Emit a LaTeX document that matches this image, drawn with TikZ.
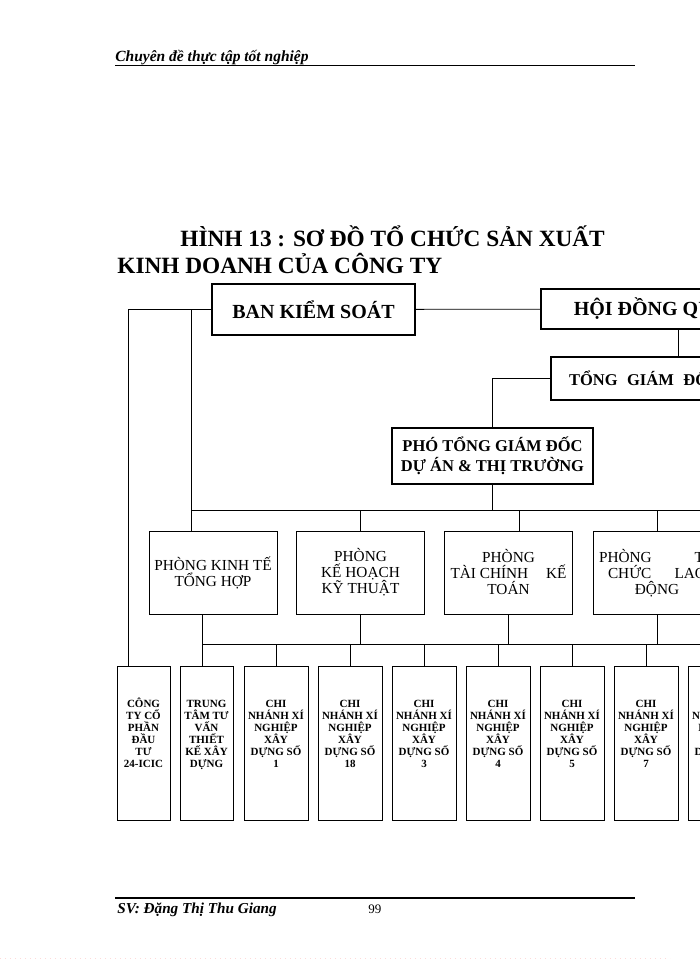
\documentclass[tikz,border=0pt]{standalone}
\usepackage{fontspec}
\setmainfont{Liberation Serif}

\begin{document}
\begin{tikzpicture}[x=1pt, y=-1pt, line width=0.8pt,
    topbox/.style={draw, line width=1.4pt, inner sep=0pt, font=\bfseries\fontsize{20}{23}\selectfont},
    roombox/.style={draw, line width=1pt, minimum width=128pt, minimum height=83pt, inner sep=0pt, align=center, font=\fontsize{15.3}{16}\selectfont},
    unitbox/.style={draw, line width=1pt, inner sep=0pt, anchor=north, minimum height=154pt, text height=101pt, text depth=53pt, align=center, font=\bfseries\fontsize{11}{12}\selectfont}]
  \useasboundingbox (0,0) rectangle (700,960);
  \clip (0,0) rectangle (700,960);

  % page head and foot
  \node[anchor=base west, inner sep=0pt, font=\bfseries\itshape\fontsize{15.5}{17}\selectfont] (head) at (115,62) {Chuyên đề thực tập tốt nghiệp};
  \draw[line width=1.2pt] (115,65.5) -- (635,65.5);
  \draw[line width=1.5pt] (115,898) -- (635,898);
  \node[anchor=base west, inner sep=0pt, font=\bfseries\itshape\fontsize{15.2}{17}\selectfont] (student) at (117,913) {SV: Đặng Thị Thu Giang};
  \node[anchor=base west, inner sep=0pt, font=\fontsize{13}{15}\selectfont] (page) at (368,913) {99};
  \draw[pink!60, line width=0.8pt, dash pattern=on 1pt off 4pt] (0,958) -- (670,958);

  \node[anchor=base west, inner sep=0pt, font=\bfseries\fontsize{23.3}{27}\selectfont] (title1) at (180,246) {HÌNH 13 : SƠ ĐỒ TỔ CHỨC SẢN XUẤT};
  \node[anchor=base west, inner sep=0pt, font=\bfseries\fontsize{23.3}{27}\selectfont] (title2) at (117,273.5) {KINH DOANH CỦA CÔNG TY};

  % board and management
  \node[topbox, minimum width=203pt, minimum height=51pt] (ban) at (313.5,309.5) {BAN KIỂM SOÁT};
  \node[topbox, minimum width=274pt, minimum height=40pt] (hdqt) at (678,309) {HỘI ĐỒNG QUẢN TRỊ};
  \node[topbox, minimum height=43pt, text width=218pt, inner xsep=18pt, align=left, font=\bfseries\fontsize{16.5}{19}\selectfont] (tgd) at (678,378.5) {TỔNG\hspace{4pt} GIÁM\hspace{4pt} ĐỐC};
  \node[topbox, minimum width=201pt, minimum height=56pt, align=center, font=\bfseries\fontsize{16.5}{20}\selectfont] (pho) at (492.5,456) {PHÓ TỔNG GIÁM ĐỐC\\DỰ ÁN \& THỊ TRƯỜNG};

  % departments
  \node[roombox] (pkt) at (213,572.5) {PHÒNG KINH TẾ\\TỔNG HỢP};
  \node[roombox] (pkh) at (360.5,572.5) {PHÒNG\\KẾ HOẠCH\\KỸ THUẬT};
  \node[roombox] (ptc) at (508.5,572.5) {PHÒNG\\\makebox[116pt]{TÀI CHÍNH\hfill KẾ}\\TOÁN};
  \node[roombox] (ptl) at (657,572.5) {\makebox[116pt]{PHÒNG\hfill TỔ}\\\makebox[98pt]{CHỨC\hfill LAO}\\ĐỘNG};

  % units
  \node[unitbox, minimum width=53pt] (ct) at (143.5,666) {CÔNG\\TY CỔ\\PHẦN\\ĐẦU\\TƯ\\24-ICIC};
  \node[unitbox, minimum width=53pt] (tt) at (206.5,666) {TRUNG\\TÂM TƯ\\VẤN\\THIẾT\\KẾ XÂY\\DỰNG};
  \foreach \n [count=\i] in {1,18,3,4,5,7,8} {
    \node[unitbox, minimum width=64pt] (cn\i) at ({276+74*(\i-1)},666) {CHI\\NHÁNH XÍ\\NGHIỆP\\XÂY\\DỰNG SỐ\\\n};
  }

  % connectors
  \draw (ban) -- (hdqt);
  \draw (hdqt) -- (tgd);
  \draw (tgd.west) -| (pho.north);
  \draw (ban.west) -| ([xshift=-15.5pt]ct.north);
  \coordinate (kl) at ([xshift=-22pt]pkt.north);
  \draw (kl) -- (kl |- ban.west);
  \coordinate (busa) at (191,510);
  \coordinate (busb) at (202,644);
  \draw (busa) -- ++(570,0);
  \draw (busb) -- ++(560,0);
  \draw (pho.south) -- (pho.south |- busa);
  \draw (pkh.north) -- (pkh.north |- busa);
  \draw ([xshift=10.5pt]ptc.north) -- ([xshift=10.5pt]ptc.north |- busa);
  \draw (ptl.north) -- (ptl.north |- busa);
  \draw ([xshift=-11pt]pkt.south) -- ([xshift=-4.5pt]tt.north);
  \draw (pkh.south) -- (pkh.south |- busb);
  \draw (ptc.south) -- (ptc.south |- busb);
  \draw (ptl.south) -- (ptl.south |- busb);
  \foreach \i in {1,...,7} {
    \draw (cn\i.north) -- (cn\i.north |- busb);
  }
\end{tikzpicture}
\end{document}
